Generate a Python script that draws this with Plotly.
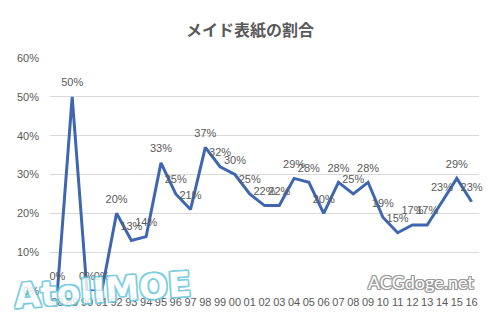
import plotly.graph_objects as go

# Share of maid covers per year
years = ["88", "89", "90", "91", "92", "93", "94", "95", "96", "97", "98", "99",
         "00", "01", "02", "03", "04", "05", "06", "07", "08", "09", "10", "11",
         "12", "13", "14", "15", "16"]
share = [0.00, 0.50, 0.00, 0.00, 0.20, 0.13, 0.14, 0.33, 0.25, 0.21, 0.37, 0.32,
         0.30, 0.25, 0.22, 0.22, 0.29, 0.28, 0.20, 0.28, 0.25, 0.28, 0.19, 0.15,
         0.17, 0.17, 0.23, 0.29, 0.23]
y_ticks = [0.0, 0.1, 0.2, 0.3, 0.4, 0.5, 0.6]

title_text = "メイド表紙の割合"
site_mark = "ACGdoge.net"
logo_mark = "AtoIIMOE"

GRAY = "#595959"
LINE = "#3F66B1"


def outline(color, w):
    offs = [(-w, -w), (w, -w), (-w, w), (w, w), (0, w), (0, -w), (w, 0), (-w, 0)]
    return ", ".join(f"{dx}px {dy}px 0 {color}" for dx, dy in offs)


fig = go.Figure()
fig.add_trace(go.Scatter(
    x=years,
    y=share,
    mode="lines+markers+text",
    line=dict(color=LINE, width=3),
    # invisible markers only widen the gap between the line and its labels
    marker=dict(size=11, color="rgba(0,0,0,0)"),
    text=[f"{round(v * 100):d}%" for v in share],
    textposition="top center",
    textfont=dict(family="Liberation Sans, Arial, sans-serif", size=11, color=GRAY),
    cliponaxis=False,
    hoverinfo="skip",
))

fig.update_layout(
    width=500,
    height=327,
    margin=dict(l=50, r=21, t=58, b=36),
    paper_bgcolor="white",
    plot_bgcolor="white",
    showlegend=False,
    title=dict(
        text=title_text,
        x=0.5,
        xanchor="center",
        y=1 - 30 / 327,
        yanchor="middle",
        font=dict(family="Noto Sans CJK JP", size=16, color=GRAY, weight=700),
    ),
    font=dict(family="Liberation Sans, Arial, sans-serif", size=11, color=GRAY),
)

fig.update_xaxes(
    type="category",
    range=[-0.5, len(years) - 0.5],
    showgrid=False,
    showline=False,
    zeroline=False,
    ticks="",
    ticklabelstandoff=3,
    tickfont=dict(size=11, color=GRAY),
)
fig.update_yaxes(
    range=[0, 0.6],
    tickvals=y_ticks,
    tickformat=".0%",
    showgrid=True,
    gridcolor="#D9D9D9",
    gridwidth=1,
    zeroline=False,
    showline=False,
    ticks="",
    ticklabelstandoff=10,
    tickfont=dict(size=11, color=GRAY),
)

# Site watermark, bottom right
fig.add_annotation(
    text=site_mark,
    xref="paper", yref="paper",
    x=(421 - 50) / 429, y=(327 - 282 - 36) / 233,
    xanchor="center", yanchor="middle",
    showarrow=False,
    font=dict(family="Lato, sans-serif", size=18, color="white",
              shadow=outline("#9A9A9A", 1)),
)

# Logo watermark, bottom left
fig.add_annotation(
    text=logo_mark,
    xref="paper", yref="paper",
    x=(102 - 50) / 429, y=(327 - 290 - 36) / 233,
    xanchor="center", yanchor="middle",
    showarrow=False,
    textangle=-4,
    opacity=0.8,
    font=dict(family="DejaVu Sans", size=34, color="white", weight=900,
              shadow=outline("#5BC3D8", 1.5)),
)

fig.write_html("out.html")
